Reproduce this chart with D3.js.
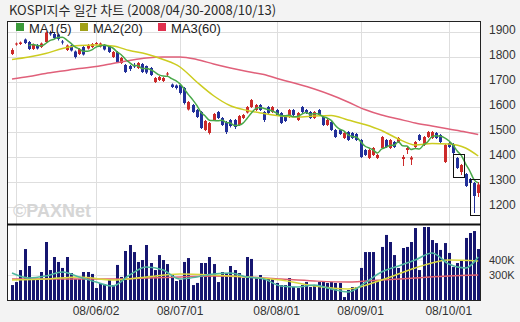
<!DOCTYPE html>
<html>
<head>
<meta charset="utf-8">
<script src="https://cdn.jsdelivr.net/npm/d3@7/dist/d3.min.js"></script>
<style>
body { margin: 0; background: #f3f3f3; }
svg { display: block; font-family: "Liberation Sans", Arial, sans-serif; }
</style>
</head>
<body>
<div id="chart"></div>
<script>
// trading days 2008/04/30 - 2008/10/13
var dates = ["04/30",
  "05/02","05/06","05/07","05/08","05/09","05/13","05/14","05/15","05/16","05/19","05/20","05/21","05/22","05/23","05/26","05/27","05/28","05/29","05/30",
  "06/02","06/03","06/04","06/05","06/09","06/10","06/11","06/12","06/13","06/16","06/17","06/18","06/19","06/20","06/23","06/24","06/25","06/26","06/27","06/30",
  "07/01","07/02","07/03","07/04","07/07","07/08","07/09","07/10","07/11","07/14","07/15","07/16","07/17","07/18","07/21","07/22","07/23","07/24","07/25","07/28","07/29","07/30","07/31",
  "08/01","08/04","08/05","08/06","08/07","08/08","08/11","08/12","08/13","08/14","08/18","08/19","08/20","08/21","08/22","08/25","08/26","08/27","08/28","08/29",
  "09/01","09/02","09/03","09/04","09/05","09/08","09/09","09/10","09/11","09/12","09/16","09/17","09/18","09/19","09/22","09/23","09/24","09/25","09/26","09/29","09/30",
  "10/01","10/02","10/06","10/07","10/08","10/09","10/10","10/13"];

var opens = [1812,1850,1852,1870,1860,1832,1848,1840,1860,1895,1892,1890,1862,1828,1846,1822,1812,1840,1834,1840,
  1852,1842,1848,1844,1800,1820,1776,1768,1764,1768,1756,1772,1764,1756,1700,1708,1704,1730,1690,1686,
  1688,1676,1590,1608,1588,1580,1508,1496,1548,1580,1556,1540,1548,1548,1528,1556,1578,1600,1588,1608,1580,1600,1580,
  1588,1576,1564,1560,1588,1548,1600,1588,1580,1556,1588,1560,1528,1540,1508,1508,1476,1500,1496,1492,
  1468,1428,1396,1408,1396,1436,1468,1436,1460,1460,1392,1428,1390,1440,1488,1448,1480,1476,1496,1488,1380,
  1456,1452,1396,1340,1332,1312,1296,1256];
var highs = [1835,1858,1862,1874,1864,1854,1852,1858,1902,1905,1898,1894,1868,1850,1850,1826,1836,1844,1852,1856,
  1860,1858,1852,1848,1824,1824,1800,1772,1768,1776,1780,1776,1766,1760,1720,1724,1720,1740,1694,1690,
  1692,1680,1624,1612,1592,1584,1548,1540,1576,1584,1560,1544,1552,1552,1568,1572,1604,1632,1612,1612,1584,1604,1604,
  1592,1580,1568,1592,1592,1580,1604,1592,1584,1584,1592,1564,1552,1544,1512,1512,1500,1504,1500,1496,
  1472,1432,1432,1440,1412,1484,1472,1472,1464,1480,1408,1444,1404,1464,1492,1484,1504,1504,1500,1492,1452,
  1460,1456,1400,1372,1336,1316,1300,1300];
var lows = [1808,1845,1848,1852,1828,1828,1830,1836,1856,1885,1872,1866,1850,1824,1822,1794,1808,1806,1830,1836,
  1846,1838,1826,1816,1796,1776,1772,1736,1744,1756,1752,1736,1732,1724,1696,1704,1700,1724,1676,1670,
  1650,1610,1586,1576,1556,1512,1504,1490,1544,1552,1524,1492,1518,1512,1524,1552,1574,1596,1584,1584,1540,1572,1576,
  1564,1532,1540,1556,1564,1544,1576,1572,1552,1552,1564,1524,1524,1504,1476,1488,1472,1464,1472,1464,
  1396,1404,1392,1404,1392,1432,1436,1432,1436,1456,1364,1412,1368,1436,1464,1444,1476,1472,1472,1456,1376,
  1436,1412,1352,1328,1280,1288,1176,1240];
var closes = [1828,1854,1858,1856,1832,1850,1834,1854,1898,1892,1876,1872,1858,1846,1826,1800,1832,1810,1848,1852,
  1856,1854,1830,1820,1820,1780,1796,1740,1752,1762,1776,1740,1738,1728,1716,1720,1716,1734,1680,1676,
  1656,1616,1620,1580,1560,1516,1544,1536,1572,1556,1528,1500,1524,1520,1564,1568,1600,1628,1608,1588,1548,1576,1600,
  1568,1536,1544,1588,1568,1576,1580,1576,1556,1580,1568,1528,1548,1508,1480,1492,1496,1468,1476,1468,
  1400,1408,1428,1436,1408,1480,1440,1468,1440,1476,1400,1436,1398,1460,1468,1480,1500,1500,1476,1460,1448,
  1440,1416,1356,1368,1284,1296,1244,1290];
// volume, thousand shares
var volumes = [233,253,333,473,360,267,267,320,520,333,420,387,347,420,313,273,273,320,320,307,
  213,247,240,267,233,367,287,460,500,453,387,400,500,380,333,433,400,373,300,260,
  267,387,413,233,247,380,380,420,373,253,320,313,360,333,313,280,420,407,287,300,280,280,273,
  247,233,233,280,220,213,233,253,220,233,253,253,247,253,247,247,153,200,220,220,
  347,453,453,453,267,487,567,520,433,347,480,487,520,613,333,620,620,533,513,467,513,
  447,353,380,400,547,580,593,473];

// moving averages (index of trading day, value)
var maIdx = [0,4,8,12,16,20,24,28,32,36,40,44,48,52,56,60,64,68,72,76,80,84,88,92,96,100,104,108,111];
var ma20 = [1790,1800,1814,1834,1846,1848,1844,1826,1812,1790,1760,1700,1645,1605,1586,1574,1564,1560,1564,1566,1548,1530,1506,1472,1448,1454,1452,1436,1404];
var ma60 = [1712,1722,1734,1744,1754,1762,1774,1786,1796,1800,1800,1790,1772,1756,1742,1730,1710,1692,1672,1648,1620,1590,1568,1552,1536,1524,1512,1500,1490];
var volMa5 = [313,280,293,320,287,253,227,300,353,333,273,287,307,313,287,273,227,220,233,207,187,247,320,360,400,447,373,347,420];
var volMaIdx = [0,8,16,24,32,40,48,56,64,72,80,88,96,104,111];
var volMa20 = [267,273,287,267,287,307,300,287,267,227,207,267,347,400,393];
var volMa60 = [273,273,273,273,280,287,293,287,273,260,253,267,280,293,300];

var priceTicks = [1200,1300,1400,1500,1600,1700,1800,1900];
var volTicks = [300,400];
var gridDates = ["05/02","06/02","07/01","08/01","09/01","10/01"];
var dateLabels = ["","08/06/02","08/07/01","08/08/01","08/09/01","08/10/01"];
var boxes = [[106,107],[110,111]]; // highlighted candle groups

var W = 520, H = 322;
var left = 7, right = 481, pTop = 21, pBottom = 224, vTop = 225, vBottom = 301;

var svg = d3.select("#chart").append("svg").attr("width", W).attr("height", H);

var x = d3.scaleLinear().domain([0, dates.length - 1]).range([12, 478.2]);
var y = d3.scaleLinear().domain([1200, 1900]).range([207, 32]);
var yv = d3.scaleLinear().domain([300, 400]).range([275, 260]);

// panels
svg.append("rect").attr("x", left).attr("y", pTop).attr("width", right - left).attr("height", pBottom - pTop).attr("fill", "#fff");
svg.append("rect").attr("x", left).attr("y", vTop).attr("width", right - left).attr("height", vBottom - vTop).attr("fill", "#fff");

var defs = svg.append("defs");
defs.append("clipPath").attr("id", "clipP").append("rect").attr("x", left).attr("y", pTop).attr("width", right - left).attr("height", pBottom - pTop);
defs.append("clipPath").attr("id", "clipV").append("rect").attr("x", left).attr("y", vTop).attr("width", right - left).attr("height", vBottom - vTop);

// grid
svg.selectAll(".hgrid").data(priceTicks).enter().append("line")
  .attr("x1", left).attr("x2", right)
  .attr("y1", function(d) { return Math.round(y(d)) + 0.5; })
  .attr("y2", function(d) { return Math.round(y(d)) + 0.5; })
  .attr("stroke", "#dedede");
svg.selectAll(".vgrid").data(gridDates).enter().append("line")
  .attr("x1", function(d) { return Math.round(x(dates.indexOf(d))) + 0.5; })
  .attr("x2", function(d) { return Math.round(x(dates.indexOf(d))) + 0.5; })
  .attr("y1", pTop).attr("y2", vBottom)
  .attr("stroke", "#dedede");
svg.selectAll(".vhgrid").data(volTicks).enter().append("line")
  .attr("x1", left).attr("x2", right)
  .attr("y1", function(d) { return Math.round(yv(d)) + 0.5; })
  .attr("y2", function(d) { return Math.round(yv(d)) + 0.5; })
  .attr("stroke", "#e8e8e8");

// watermark
svg.append("text").attr("x", 13).attr("y", 217).text("\u00a9PAXNet")
  .attr("font-size", 18).attr("font-weight", "bold").attr("fill", "#d6d6d6");

var idx = d3.range(dates.length);
var up = "#cc2a2a", down = "#22309a";

// candles
var pg = svg.append("g").attr("clip-path", "url(#clipP)");
pg.selectAll(".wick").data(idx).enter().append("line")
  .attr("x1", function(i) { return Math.round(x(i)) + 0.5; })
  .attr("x2", function(i) { return Math.round(x(i)) + 0.5; })
  .attr("y1", function(i) { return y(highs[i]); })
  .attr("y2", function(i) { return y(lows[i]); })
  .attr("stroke", function(i) { return closes[i] >= opens[i] ? up : down; });
pg.selectAll(".body").data(idx).enter().append("rect")
  .attr("x", function(i) { return Math.round(x(i)) - 1; })
  .attr("width", 3)
  .attr("y", function(i) { return y(Math.max(opens[i], closes[i])); })
  .attr("height", function(i) { return Math.max(1, Math.abs(y(opens[i]) - y(closes[i]))); })
  .attr("fill", function(i) { return closes[i] >= opens[i] ? up : down; });

// price moving averages
var ma5 = idx.filter(function(i) { return i >= 4; }).map(function(i) {
  return [i, d3.mean(closes.slice(i - 4, i + 1))];
});
var line = d3.line().x(function(d) { return x(d[0]); }).y(function(d) { return y(d[1]); }).curve(d3.curveMonotoneX);
pg.append("path").attr("d", line(maIdx.map(function(i, k) { return [i, ma60[k]]; })))
  .attr("fill", "none").attr("stroke", "#e0607a").attr("stroke-width", 1.5);
pg.append("path").attr("d", line(maIdx.map(function(i, k) { return [i, ma20[k]]; })))
  .attr("fill", "none").attr("stroke", "#cccc20").attr("stroke-width", 1.5);
pg.append("path").attr("d", line(ma5))
  .attr("fill", "none").attr("stroke", "#48a848").attr("stroke-width", 1.5);

// boxes
pg.selectAll(".box").data(boxes).enter().append("rect")
  .attr("x", function(b) { return Math.round(x(b[0])) - 3.5; })
  .attr("width", function(b) { return Math.round(x(b[1])) - Math.round(x(b[0])) + 7; })
  .attr("y", function(b) { return y(d3.max(highs.slice(b[0], b[1] + 1))) - 2.5; })
  .attr("height", function(b) { return y(d3.min(lows.slice(b[0], b[1] + 1))) - y(d3.max(highs.slice(b[0], b[1] + 1))) + 5; })
  .attr("fill", "none").attr("stroke", "#111").attr("stroke-width", 1);

// volume bars
var vg = svg.append("g").attr("clip-path", "url(#clipV)");
vg.selectAll(".vbar").data(idx).enter().append("rect")
  .attr("x", function(i) { return Math.round(x(i)) - 1; })
  .attr("width", 3)
  .attr("y", function(i) { return yv(volumes[i]); })
  .attr("height", function(i) { return vBottom - yv(volumes[i]); })
  .attr("fill", "#161670");
var vline = d3.line().x(function(d) { return x(d[0]); }).y(function(d) { return yv(d[1]); }).curve(d3.curveMonotoneX);
vg.append("path").attr("d", vline(volMaIdx.map(function(i, k) { return [i, volMa60[k]]; })))
  .attr("fill", "none").attr("stroke", "#e06070").attr("stroke-width", 1.5);
vg.append("path").attr("d", vline(volMaIdx.map(function(i, k) { return [i, volMa20[k]]; })))
  .attr("fill", "none").attr("stroke", "#d8d840").attr("stroke-width", 1.5);
vg.append("path").attr("d", vline(maIdx.map(function(i, k) { return [i, volMa5[k]]; })))
  .attr("fill", "none").attr("stroke", "#50b8a0").attr("stroke-width", 1.5);

// borders
svg.append("rect").attr("x", left + 0.5).attr("y", pTop + 0.5).attr("width", right - left - 1).attr("height", vBottom - pTop - 1)
  .attr("fill", "none").attr("stroke", "#222");
svg.append("line").attr("x1", left).attr("x2", right).attr("y1", pBottom + 0.5).attr("y2", pBottom + 0.5)
  .attr("stroke", "#111").attr("stroke-width", 2);

// axis labels
svg.selectAll(".plab").data(priceTicks).enter().append("text")
  .attr("x", 489).attr("y", function(d) { return y(d) + 2; })
  .text(function(d) { return d; })
  .attr("font-size", 12).attr("fill", "#333");
svg.selectAll(".vlab").data(volTicks).enter().append("text")
  .attr("x", 489).attr("y", function(d) { return yv(d) + 4; })
  .text(function(d) { return d + "K"; })
  .attr("font-size", 11).attr("fill", "#333");
svg.selectAll(".dlab").data(gridDates).enter().append("text")
  .attr("x", function(d) { return x(dates.indexOf(d)); })
  .attr("y", 315).attr("text-anchor", "middle")
  .text(function(d, k) { return dateLabels[k]; })
  .attr("font-size", 12).attr("fill", "#333");

// title
svg.append("text").attr("x", 9).attr("y", 15)
  .text("KOSPI지수 일간 차트 (2008/04/30-2008/10/13)")
  .attr("font-family", "'Noto Sans CJK KR', sans-serif")
  .attr("font-size", 13).attr("fill", "#2a2a2a");

// legend
var legend = [["MA1(5)", "#3a9a3a", 16], ["MA2(20)", "#a0a018", 80], ["MA3(60)", "#e0304e", 158]];
var lg = svg.selectAll(".legend").data(legend).enter().append("g")
  .attr("transform", function(d) { return "translate(" + d[2] + ",23)"; });
lg.append("rect").attr("width", 8).attr("height", 8).attr("fill", function(d) { return d[1]; });
lg.append("text").attr("x", 13).attr("y", 9.5).text(function(d) { return d[0]; })
  .attr("font-size", 13).attr("fill", "#222");
</script>
</body>
</html>
